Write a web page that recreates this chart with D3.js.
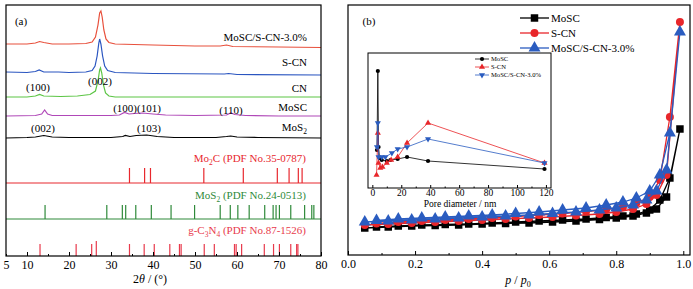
<!DOCTYPE html>
<html lang="en">
<head>
<meta charset="UTF-8">
<title>XRD / N2 isotherms</title>
<script src="https://d3js.org/d3.v7.min.js"></script>
<style>
  body { margin: 0; background: #fff; }
  svg text { font-family: 'Liberation Serif', 'Times New Roman', serif !important; }
  .axis path { display: none; }
  .axis line { stroke: #000; stroke-width: 1; }
</style>
</head>
<body>
<svg id="svg" width="693" height="289"></svg>
<script>
// ---------- panel (a) data: XRD, [2theta, intensity above own baseline] ----------
var xrdMajor = [10, 20, 30, 40, 50, 60, 70, 80]
var xrdLabels = [5, 10, 20, 30, 40, 50, 60, 70, 80]
var xrdMinor = [5, 15, 25, 35, 45, 55, 65, 75]

var xrdComposite = [[5,1],[10,1],[12,2],[13,3.5],[14,2.5],[16,1],[20,1],[24,1.5],[25.5,3],[26.3,8],[26.9,20],[27.3,32],[27.6,34],[27.9,28],[28.3,15],[28.8,6],[29.5,2.5],[31,1],[40,0],[50,-1],[56,-1],[57.5,0],[59,-1.5],[70,-2],[80,-2.5]]
var xrdSCN = [[5,1],[10,0.5],[12,1.5],[12.9,3],[14,1],[17.5,1],[20,0.5],[24,1],[25.5,2.5],[26.2,7],[26.7,17],[27.1,30],[27.3,34],[27.6,29],[28,17],[28.5,7],[29.2,2.5],[31,0.5],[40,-0.5],[57,-1],[58,-0.5],[60,-1.5],[80,-2]]
var xrdCN = [[5,0],[10,0],[12,1],[13,2.5],[14,1],[18,0.5],[22,1],[25,2.5],[26.3,6],[26.9,16],[27.3,27],[27.5,29],[27.8,24],[28.2,12],[28.7,4],[29.5,1],[31,0],[80,0]]
var xrdMoSC = [[5,0],[12,0.5],[13.5,2],[14.2,6],[14.9,2],[16,0.5],[25,0.5],[30,0.5],[32,1],[33.2,3.5],[34.3,2],[35.5,2.5],[37.5,3],[40,2],[43,1],[50,0.5],[57.5,1],[58.5,3],[59.5,1.5],[62,0.5],[70,0],[80,0]]
var xrdMoS2 = [[5,0],[10,0.5],[12,1],[14,2.5],[16,1],[20,0.5],[30,0.5],[32.8,1.5],[33.4,2.5],[34.5,1.5],[36,2.5],[38.5,3],[41,1.5],[45,0.5],[55,0.5],[57.5,1.5],[58.5,2],[60,1],[65,0.5],[80,0]]

// standard cards (peak positions)
var pdfMo2C = [34.4, 38.0, 39.4, 52.1, 61.5, 69.6, 72.4, 74.6, 75.5]
var pdfMoS2 = [14.3, 29.0, 32.7, 33.5, 35.9, 39.6, 44.3, 49.9, 56.0, 58.4, 60.2, 62.9, 66.6, 68.6, 69.3, 70.1, 72.8, 76.1, 77.8, 78.3]
var pdfGCN = [13.1, 21.7, 25.4, 26.5, 34.4, 37.9, 40.3, 44.0, 46.3, 46.7, 52.2, 54.6, 59.4, 59.8, 61.1, 66.5, 68.7, 70.1, 72.8, 74.2, 74.5]
var pdfGCNrel = [1, 1, 1, 1.25, 1, 1, 1, 1, 1, 1, 1, 1, 1, 1, 1, 1, 1, 1, 1, 1, 1]

// ---------- panel (b) data: N2 isotherms ----------
var isoTicks = [0, 0.2, 0.4, 0.6, 0.8, 1.0]
var isoMinor = [0.1, 0.3, 0.5, 0.7, 0.9]
var adsP = [0.05,0.12,0.19,0.26,0.33,0.40,0.47,0.54,0.61,0.68,0.75,0.80,0.85,0.89,0.92,0.95,0.99]
var desP = [0.96,0.93,0.90,0.86,0.82,0.77,0.71,0.64,0.57,0.50,0.43,0.36,0.29,0.22,0.15,0.085]
var adsMoSC = [27,28,29,29.5,30,31,31.5,32,33,34,35.5,37,39,42,46,58,126]
var desMoSC = [77,55,45,41,39,37.5,36,35,34,33,32,31,30.5,30,29,28]
var adsSCN = [30,31,32,33,34,35,36,37,38,39.5,41,43,46,51,60,80,233]
var desSCN = [138,75,58,52,48,45.5,43.5,41.5,40,38.5,37,36,35,34,33,31.5]
var adsComp = [33,34,35,36,37,38,39,40,41.5,43,45,47,50,55,64,85,223]
var desComp = [122,80,64,57,53,50,47,45,43,41.5,40,39,38,37,36,34.5]

// inset: pore size distribution
var poreTicks = [0, 20, 40, 60, 80, 100, 120]
var poreMinor = [10, 30, 50, 70, 90, 110]
var poreMoSC = [[3.2,38],[3.8,117],[4.3,41],[5,30],[6.5,28],[10,27],[12.5,28],[17.5,29],[24,31],[38.5,27],[119,19]]
var poreSCN = [[2.9,13],[3.8,55],[4.3,25],[5.5,20],[7,21],[10,25],[13,28],[17.5,31],[24,45],[38.5,65],[119,25]]
var poreComp = [[3.2,41],[3.8,65],[4.3,31],[6.5,31],[9,31],[13.5,35],[17.5,39],[24,41],[38.5,49],[119,25]]

var svg = d3.select('#svg')

function styleTicks(g, size) {
  g.attr('font-size', size)
  g.selectAll('text').attr('fill', '#000')
}

// ===================== panel (a) =====================
var xA = d3.scaleLinear().domain([5, 80]).range([6, 321])
var yA = d3.scaleLinear().domain([0, 251]).range([256, 5])
var gA = svg.append('g')

var lineA = d3.line().x(d => xA(d[0])).y(d => yA(d[1]))

var patterns = [
  { data: xrdComposite, off: 211, color: '#e8503c', name: 'MoSC/S-CN-3.0%', ly: 37 },
  { data: xrdSCN, off: 183, color: '#2a55c0', name: 'S-CN', ly: 62 },
  { data: xrdCN, off: 159, color: '#5cc545', name: 'CN', ly: 88 },
  { data: xrdMoSC, off: 140, color: '#b048b8', name: 'MoSC', ly: 107 },
  { data: xrdMoS2, off: 118, color: '#000', name: 'MoS', sub: '2', ly: 127 }
]

patterns.forEach(p => {
  gA.append('path')
    .attr('d', lineA(p.data.map(d => [d[0], d[1] + p.off])))
    .attr('fill', 'none')
    .attr('stroke', p.color)
    .attr('stroke-width', 1.2)
  var t = gA.append('text')
    .attr('x', 307).attr('y', p.ly + 4)
    .attr('text-anchor', 'end')
    .attr('font-size', 11)
    .text(p.name)
  if (p.sub) t.append('tspan').attr('font-size', 7.5).attr('dy', 3).text(p.sub)
})

// hkl labels
var hkl = [['(100)', 38, 87], ['(002)', 100, 81], ['(100)(101)', 137, 108], ['(110)', 231, 110], ['(002)', 43, 128], ['(103)', 149, 128]]
hkl.forEach(h => {
  gA.append('text').attr('x', h[1]).attr('y', h[2] + 4)
    .attr('text-anchor', 'middle').attr('font-size', 11).text(h[0])
})

// standard card rows
function cardRow(pos, rel, base, h, color, baseLine) {
  if (baseLine) {
    gA.append('line')
      .attr('x1', xA(5)).attr('x2', xA(80))
      .attr('y1', yA(base)).attr('y2', yA(base))
      .attr('stroke', color).attr('stroke-width', 1.2)
  }
  gA.selectAll(null).data(pos).enter().append('line')
    .attr('x1', d => xA(d)).attr('x2', d => xA(d))
    .attr('y1', yA(base))
    .attr('y2', (d, i) => yA(base + h * (rel ? rel[i] : 1)))
    .attr('stroke', color).attr('stroke-width', 1.2)
}
cardRow(pdfMo2C, null, 73, 15, '#e8282e', true)
cardRow(pdfMoS2, null, 37, 14, '#2f8a3a', true)
cardRow(pdfGCN, pdfGCNrel, 0, 12, '#e83a4c', false)

function cardLabel(y, color, parts) {
  var t = gA.append('text').attr('x', 306).attr('y', y + 4)
    .attr('text-anchor', 'end').attr('font-size', 11).attr('fill', color)
  parts.forEach(p => {
    if (p[1]) t.append('tspan').attr('font-size', 7.5).attr('dy', 3).text(p[0])
    else t.append('tspan').attr('dy', p[2] || 0).text(p[0])
  })
}
cardLabel(158, '#e8282e', [['Mo'], ['2', true], ['C (PDF No.35-0787)', false, -3]])
cardLabel(195, '#2f8a3a', [['MoS'], ['2', true], [' (PDF No.24-0513)', false, -3]])
cardLabel(230, '#e83a4c', [['g-C'], ['3', true], ['N', false, -3], ['4', true], [' (PDF No.87-1526)', false, -3]])

// axis (a)
gA.append('g').attr('class', 'axis')
  .attr('transform', 'translate(0,256)')
  .call(d3.axisBottom(xA).tickValues(xrdMinor).tickSize(-2).tickFormat(''))
gA.append('g').attr('class', 'axis')
  .attr('transform', 'translate(0,256)')
  .call(d3.axisBottom(xA).tickValues(xrdMajor).tickSize(-4).tickFormat(''))
gA.append('g').attr('class', 'axis')
  .attr('transform', 'translate(0,256)')
  .call(d3.axisBottom(xA).tickValues(xrdLabels).tickSize(0).tickPadding(4))
  .call(g => styleTicks(g, 12))

gA.append('rect').attr('x', 6).attr('y', 5).attr('width', 315).attr('height', 251)
  .attr('fill', 'none').attr('stroke', '#000').attr('stroke-width', 1.2)

gA.append('text').attr('x', 21).attr('y', 25).attr('text-anchor', 'middle').attr('font-size', 11).text('(a)')

var xlA = gA.append('text').attr('x', 150).attr('y', 283).attr('text-anchor', 'middle').attr('font-size', 12)
xlA.append('tspan').text('2')
xlA.append('tspan').attr('font-style', 'italic').text('θ')
xlA.append('tspan').text(' / (°)')

// ===================== panel (b) =====================
var xB = d3.scaleLinear().domain([0, 1.02]).range([348, 690])
var yB = d3.scaleLinear().domain([0, 250]).range([255, 5])
var gB = svg.append('g')

var isoSeries = [
  { name: 'MoSC', ads: adsMoSC, des: desMoSC, color: '#000', marker: 'square' },
  { name: 'S-CN', ads: adsSCN, des: desSCN, color: '#e8262a', marker: 'circle' },
  { name: 'MoSC/S-CN-3.0%', ads: adsComp, des: desComp, color: '#2a5cc0', marker: 'triangle' }
]

var lineB = d3.line().x(d => xB(d[0])).y(d => yB(d[1]))
var symbols = { square: d3.symbolSquare, circle: d3.symbolCircle, triangle: d3.symbolTriangle }
var symSize = { square: 56, circle: 50, triangle: 62 }

isoSeries.forEach(s => {
  var pts = adsP.map((p, i) => [p, s.ads[i]]).concat(desP.map((p, i) => [p, s.des[i]]))
  gB.append('path').attr('d', lineB(pts))
    .attr('fill', 'none').attr('stroke', s.color).attr('stroke-width', 1.3)
  gB.selectAll(null).data(pts).enter().append('path')
    .attr('d', d3.symbol().type(symbols[s.marker]).size(symSize[s.marker]))
    .attr('transform', d => 'translate(' + xB(d[0]) + ',' + yB(d[1]) + ')')
    .attr('fill', s.color)
})

// legend (b)
isoSeries.forEach((s, i) => {
  var y = 18 + i * 15
  gB.append('line').attr('x1', 520).attr('x2', 549).attr('y1', y).attr('y2', y)
    .attr('stroke', s.color).attr('stroke-width', 1.3)
  gB.append('path').attr('d', d3.symbol().type(symbols[s.marker]).size(symSize[s.marker])())
    .attr('transform', 'translate(534.5,' + y + ')').attr('fill', s.color)
  gB.append('text').attr('x', 551).attr('y', y + 4).attr('font-size', 11).text(s.name)
})

// axis (b)
gB.append('g').attr('class', 'axis').attr('transform', 'translate(0,255)')
  .call(d3.axisBottom(xB).tickValues(isoMinor).tickSize(-2).tickFormat(''))
gB.append('g').attr('class', 'axis').attr('transform', 'translate(0,255)')
  .call(d3.axisBottom(xB).tickValues(isoTicks).tickSize(-4).tickPadding(4).tickFormat(d3.format('.1f')))
  .call(g => styleTicks(g, 12))
  .call(g => g.selectAll('text').attr('y', 4.5))

gB.append('rect').attr('x', 348).attr('y', 5).attr('width', 342).attr('height', 250)
  .attr('fill', 'none').attr('stroke', '#000').attr('stroke-width', 1.2)

gB.append('text').attr('x', 369).attr('y', 25).attr('text-anchor', 'middle').attr('font-size', 11).text('(b)')

var xlB = gB.append('text').attr('x', 518).attr('y', 284).attr('text-anchor', 'middle').attr('font-size', 12)
xlB.append('tspan').attr('font-style', 'italic').text('p')
xlB.append('tspan').text(' / ')
xlB.append('tspan').attr('font-style', 'italic').text('p')
xlB.append('tspan').attr('font-size', 8).attr('dy', 3).text('0')

// ----- inset -----
var xI = d3.scaleLinear().domain([-3, 123.5]).range([368, 551])
var yI = d3.scaleLinear().domain([0, 135]).range([188, 53])
var gI = gB.append('g')
gI.append('rect').attr('x', 368).attr('y', 53).attr('width', 183).attr('height', 135)
  .attr('fill', '#fff').attr('stroke', '#000').attr('stroke-width', 1)

var poreSeries = [
  { name: 'MoSC', data: poreMoSC, color: '#000', type: d3.symbolCircle, size: 14, rot: 0 },
  { name: 'S-CN', data: poreSCN, color: '#e8262a', type: d3.symbolTriangle, size: 16, rot: 0 },
  { name: 'MoSC/S-CN-3.0%', data: poreComp, color: '#2a5cc0', type: d3.symbolTriangle, size: 16, rot: 180 }
]
var lineI = d3.line().x(d => xI(d[0])).y(d => yI(d[1]))
poreSeries.forEach(s => {
  gI.append('path').attr('d', lineI(s.data)).attr('fill', 'none')
    .attr('stroke', s.color).attr('stroke-width', 0.8)
  gI.selectAll(null).data(s.data).enter().append('path')
    .attr('d', d3.symbol().type(s.type).size(s.size))
    .attr('transform', d => 'translate(' + xI(d[0]) + ',' + yI(d[1]) + ') rotate(' + s.rot + ')')
    .attr('fill', s.color)
})
poreSeries.forEach((s, i) => {
  var y = 59 + i * 8
  gI.append('line').attr('x1', 475).attr('x2', 489).attr('y1', y).attr('y2', y)
    .attr('stroke', s.color).attr('stroke-width', 0.8)
  gI.append('path').attr('d', d3.symbol().type(s.type).size(s.size)())
    .attr('transform', 'translate(482,' + y + ') rotate(' + s.rot + ')').attr('fill', s.color)
  gI.append('text').attr('x', 491).attr('y', y + 2.3).attr('font-size', 6.6).text(s.name)
})

gI.append('g').attr('class', 'axis').attr('transform', 'translate(0,188)')
  .call(d3.axisBottom(xI).tickValues(poreMinor).tickSize(-1.5).tickFormat(''))
gI.append('g').attr('class', 'axis').attr('transform', 'translate(0,188)')
  .call(d3.axisBottom(xI).tickValues(poreTicks).tickSize(-3).tickPadding(2))
  .call(g => styleTicks(g, 9.5))
  .call(g => g.selectAll('text').attr('y', 1.5))
gI.append('text').attr('x', 460).attr('y', 207).attr('text-anchor', 'middle').attr('font-size', 9.5).text('Pore diameter / nm')
</script>
</body>
</html>
